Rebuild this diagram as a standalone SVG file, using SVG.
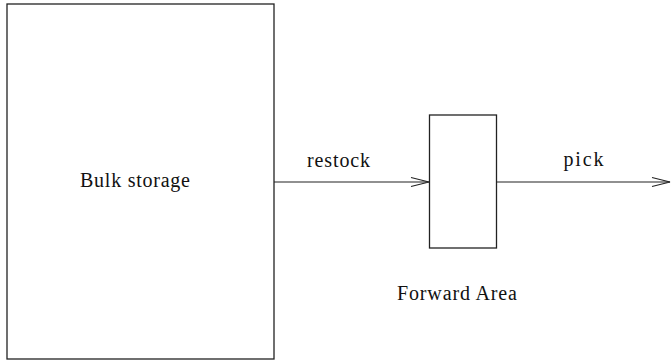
<svg xmlns="http://www.w3.org/2000/svg" width="671" height="364" viewBox="0 0 671 364">
<style>
.box{fill:none;stroke:#222;stroke-width:1.3}
.edge{fill:none;stroke:#222;stroke-width:1.1}
.head{fill:none;stroke:#222;stroke-width:1.1}
text{font-family:"Liberation Serif","Times New Roman",serif;font-size:20px;fill:#111}
</style>
<rect width="671" height="364" fill="#fff"/>
<g id="bulk">
<rect class="box" x="7" y="4" width="267" height="355"/>
<text x="80" y="187" textLength="110" lengthAdjust="spacing">Bulk storage</text>
</g>
<g id="forward">
<rect class="box" x="429.5" y="115" width="67" height="133"/>
<text x="397" y="300" textLength="120" lengthAdjust="spacing">Forward Area</text>
</g>
<g id="connectors">
<line class="edge" x1="274" y1="182" x2="429" y2="182"/>
<polyline class="head" points="411,177.5 429,182 411,186.5"/>
<text x="307" y="167" textLength="63" lengthAdjust="spacing">restock</text>
<line class="edge" x1="496.5" y1="182" x2="670" y2="182"/>
<polyline class="head" points="652,177.5 670,182 652,186.5"/>
<text x="563.5" y="166" textLength="40" lengthAdjust="spacing">pick</text>
</g>
</svg>
